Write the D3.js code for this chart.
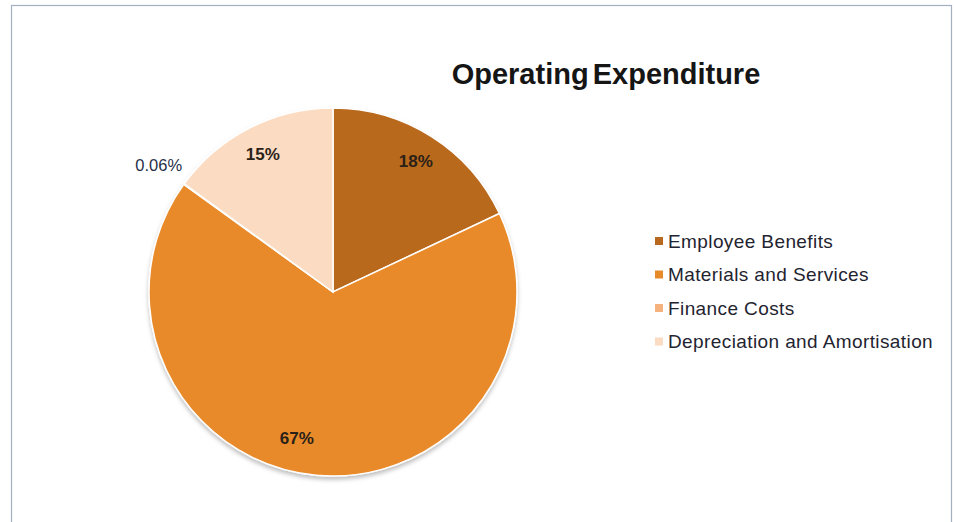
<!DOCTYPE html>
<html>
<head>
<meta charset="utf-8">
<script src="https://cdn.jsdelivr.net/npm/d3@7"></script>
<style>
  body { margin: 0; background: #fff; }
  svg { display: block; font-family: "Liberation Sans", Arial, sans-serif; }
</style>
</head>
<body>
<svg width="955" height="522"></svg>
<script>
// chart data
var categories = ["Employee Benefits", "Materials and Services", "Finance Costs", "Depreciation and Amortisation"];
var values = [18, 67, 0.06, 15];
var labels = ["18%", "67%", "0.06%", "15%"];
var colours = ["#b9691f", "#e88a2a", "#f5b27c", "#fbdcc2"];

var svg = d3.select("svg"),
    width = +svg.attr("width"),
    height = +svg.attr("height");

// frame
svg.append("rect")
   .attr("x", 11.5).attr("y", 5.5)
   .attr("width", 940).attr("height", 530)
   .attr("fill", "#fff")
   .attr("stroke", "#a4b0bf")
   .attr("stroke-width", 1.2);

// title
svg.append("text")
   .attr("x", 606).attr("y", 84)
   .attr("text-anchor", "middle")
   .attr("font-size", 29)
   .attr("font-weight", "bold")
   .attr("word-spacing", -4)
   .attr("fill", "#151515")
   .text("Operating Expenditure");

var defs = svg.append("defs");
var f = defs.append("filter").attr("id", "shadow")
   .attr("x", "-10%").attr("y", "-10%").attr("width", "120%").attr("height", "125%");
f.append("feDropShadow")
   .attr("dx", 0).attr("dy", 3).attr("stdDeviation", 2)
   .attr("flood-color", "#000").attr("flood-opacity", 0.25);

var radius = 184;
var g = svg.append("g")
           .attr("transform", "translate(" + 333 + "," + 292 + ")");

var pie = d3.pie().sort(null).value(function(d) { return d; });
var arc = d3.arc().innerRadius(0).outerRadius(radius);
var arcs = pie(values);

g.append("g").attr("filter", "url(#shadow)")
 .selectAll("path")
 .data(arcs)
 .enter().append("path")
 .attr("d", arc)
 .attr("fill", function(d, i) { return colours[i]; })
 .attr("stroke", "#fff")
 .attr("stroke-width", 1.5);

var inside = d3.arc().innerRadius(radius * 0.84).outerRadius(radius * 0.84);
var outside = d3.arc().innerRadius(radius * 1.17).outerRadius(radius * 1.17);

function small(d) { return (d.endAngle - d.startAngle) < 0.1; }

g.selectAll(".lbl")
 .data(arcs)
 .enter().append("text")
 .attr("class", "lbl")
 .attr("transform", function(d) {
     var c = small(d) ? outside.centroid(d) : inside.centroid(d);
     // the big slice label sits a little left of its centroid
     if (d.endAngle - d.startAngle > Math.PI) c = [c[0] - 22, c[1] - 8];
     return "translate(" + c + ")";
 })
 .attr("text-anchor", "middle")
 .attr("dy", "0.35em")
 .attr("font-size", function(d) { return small(d) ? 16.5 : 17; })
 .attr("font-weight", function(d) { return small(d) ? "normal" : "bold"; })
 .attr("fill", function(d) { return small(d) ? "#26304a" : "#2a2118"; })
 .text(function(d, i) { return labels[i]; });

// legend
var legend = svg.append("g").attr("transform", "translate(655,241)");
var item = legend.selectAll("g")
   .data(categories)
   .enter().append("g")
   .attr("transform", function(d, i) { return "translate(0," + (i * 33.5) + ")"; });

item.append("rect")
    .attr("x", 0).attr("y", -4)
    .attr("width", 8).attr("height", 8)
    .attr("fill", function(d, i) { return colours[i]; });

item.append("text")
    .attr("x", 13).attr("dy", "0.35em")
    .attr("font-size", 19)
    .attr("letter-spacing", 0.4)
    .attr("fill", "#1f2430")
    .text(function(d) { return d; });
</script>
</body>
</html>
